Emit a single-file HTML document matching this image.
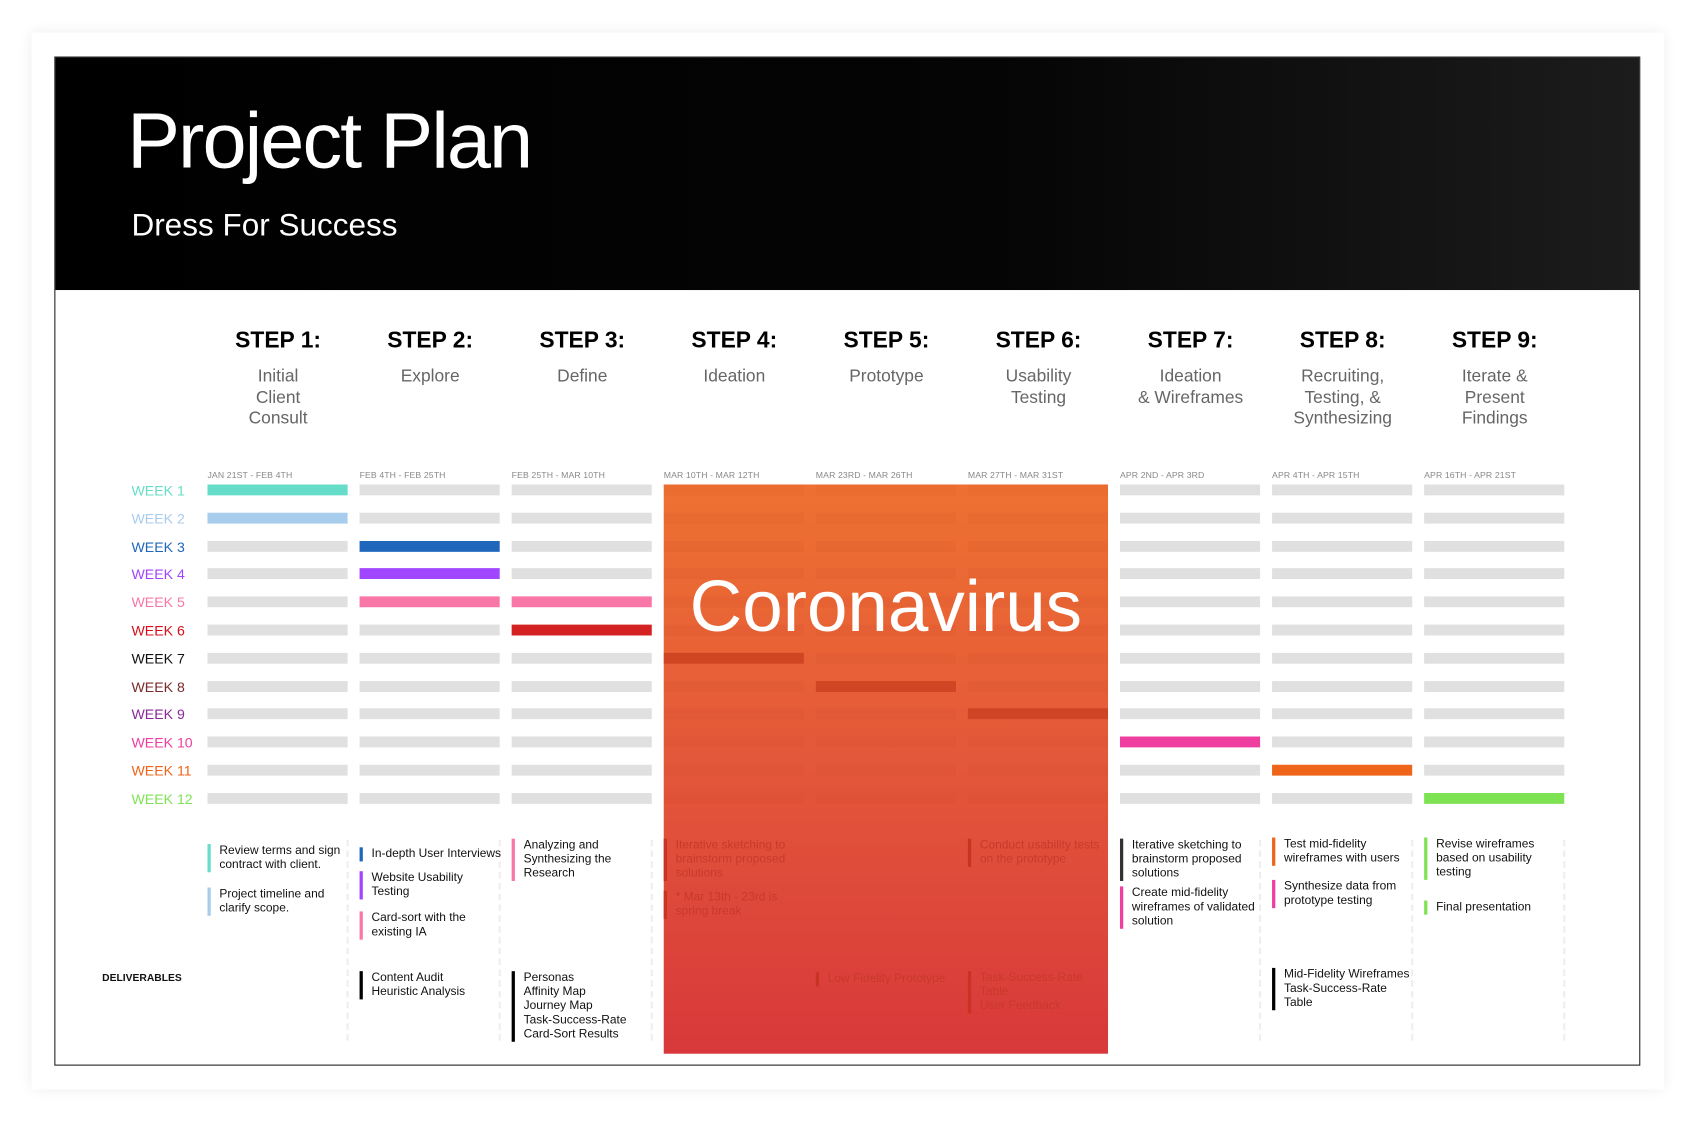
<!DOCTYPE html>
<html><head><meta charset="utf-8"><style>
html,body{margin:0;padding:0;background:#fff;width:1703px;height:1123px;overflow:hidden}
#s{position:absolute;left:0;top:0;width:1568px;height:1034px;transform:scale(1.0863);transform-origin:0 0;font-family:"Liberation Sans",sans-serif}
.a{position:absolute}
.card{left:29px;top:30px;width:1503px;height:973px;background:#fff;box-shadow:0 0 12px rgba(0,0,0,0.08)}
.frame{left:50px;top:52px;width:1458px;height:927px;border:1px solid #222;background:#fff}
.hdr{left:51px;top:53px;width:1458px;height:214px;background:linear-gradient(90deg,#000 0%,#050505 60%,#1c1c1c 100%)}
.st{width:160px;text-align:center;font-weight:bold;font-size:21px;color:#000;top:302px}
.sub{width:160px;text-align:center;font-size:16px;line-height:19.5px;color:#666;top:337px}
.dt{font-size:8px;color:#888;top:433px;letter-spacing:0.1px}
.b{height:10px;width:129px;background:#e0e0e0}
.wk{font-size:13px;left:121px}
.t{font-size:11px;line-height:13px;color:#111;padding-left:8px;border-left:3px solid #000;white-space:nowrap}
.f{color:#c8392c;border-color:#c93324}
.v{width:0;border-left:2px dashed #eee;top:773px;height:185px}
</style></head><body><div id="s">
<div class="a card"></div>
<div class="a frame"></div>
<div class="a hdr"></div>
<div class="a" style="left:117px;top:88px;font-size:73px;color:#fff;letter-spacing:-1.8px">Project Plan</div>
<div class="a" style="left:121px;top:192px;font-size:29px;color:#fff">Dress For Success</div>

<div class="a st" style="left:176px">STEP 1:</div>
<div class="a st" style="left:316px">STEP 2:</div>
<div class="a st" style="left:456px">STEP 3:</div>
<div class="a st" style="left:596px">STEP 4:</div>
<div class="a st" style="left:736px">STEP 5:</div>
<div class="a st" style="left:876px">STEP 6:</div>
<div class="a st" style="left:1016px">STEP 7:</div>
<div class="a st" style="left:1156px">STEP 8:</div>
<div class="a st" style="left:1296px">STEP 9:</div>
<div class="a sub" style="left:176px">Initial<br>Client<br>Consult</div>
<div class="a sub" style="left:316px">Explore</div>
<div class="a sub" style="left:456px">Define</div>
<div class="a sub" style="left:596px">Ideation</div>
<div class="a sub" style="left:736px">Prototype</div>
<div class="a sub" style="left:876px">Usability<br>Testing</div>
<div class="a sub" style="left:1016px">Ideation<br>&amp; Wireframes</div>
<div class="a sub" style="left:1156px">Recruiting,<br>Testing, &amp;<br>Synthesizing</div>
<div class="a sub" style="left:1296px">Iterate &amp;<br>Present<br>Findings</div>

<div class="a dt" style="left:191px">JAN 21ST - FEB 4TH</div>
<div class="a dt" style="left:331px">FEB 4TH - FEB 25TH</div>
<div class="a dt" style="left:471px">FEB 25TH - MAR 10TH</div>
<div class="a dt" style="left:611px">MAR 10TH - MAR 12TH</div>
<div class="a dt" style="left:751px">MAR 23RD - MAR 26TH</div>
<div class="a dt" style="left:891px">MAR 27TH - MAR 31ST</div>
<div class="a dt" style="left:1031px">APR 2ND - APR 3RD</div>
<div class="a dt" style="left:1171px">APR 4TH - APR 15TH</div>
<div class="a dt" style="left:1311px">APR 16TH - APR 21ST</div>

<div id="rows"></div>

<div class="a wk" style="top:444px;color:#66ddc8">WEEK 1</div>
<div class="a wk" style="top:470px;color:#a8ccec">WEEK 2</div>
<div class="a wk" style="top:496px;color:#1f67bb">WEEK 3</div>
<div class="a wk" style="top:521px;color:#a046ff">WEEK 4</div>
<div class="a wk" style="top:547px;color:#f977a6">WEEK 5</div>
<div class="a wk" style="top:573px;color:#d40f1a">WEEK 6</div>
<div class="a wk" style="top:599px;color:#111">WEEK 7</div>
<div class="a wk" style="top:625px;color:#7a2a2a">WEEK 8</div>
<div class="a wk" style="top:650px;color:#8a2a9a">WEEK 9</div>
<div class="a wk" style="top:676px;color:#ee3e9f">WEEK 10</div>
<div class="a wk" style="top:702px;color:#ee6418">WEEK 11</div>
<div class="a wk" style="top:728px;color:#7ee353">WEEK 12</div>

<div class="a v" style="left:319px"></div>
<div class="a v" style="left:459px"></div>
<div class="a v" style="left:599px"></div>
<div class="a v" style="left:1159px"></div>
<div class="a v" style="left:1299px"></div>
<div class="a v" style="left:1439px"></div>

<div class="a" style="left:611px;top:446px;width:409px;height:524px;background:linear-gradient(180deg,#ee7131 0%,#e3573a 50%,#d8383a 100%)"></div>
<div id="orows"></div>
<div class="a" style="left:611px;top:520px;width:409px;text-align:center;font-size:67px;color:#fff">Coronavirus</div>

<div class="a t" style="left:191px;top:777px;border-color:#66ddc8">Review terms and sign<br>contract with client.</div>
<div class="a t" style="left:191px;top:817px;border-color:#a8ccec">Project timeline and<br>clarify scope.</div>
<div class="a t" style="left:331px;top:780px;border-color:#1f67bb">In-depth User Interviews</div>
<div class="a t" style="left:331px;top:802px;border-color:#a046ff">Website Usability<br>Testing</div>
<div class="a t" style="left:331px;top:839px;border-color:#f977a6">Card-sort with the<br>existing IA</div>
<div class="a t" style="left:471px;top:772px;border-color:#f977a6">Analyzing and<br>Synthesizing the<br>Research</div>
<div class="a t f" style="left:611px;top:772px">Iterative sketching to<br>brainstorm proposed<br>solutions</div>
<div class="a t f" style="left:611px;top:820px">* Mar 13th - 23rd is<br>spring break</div>
<div class="a t f" style="left:891px;top:772px">Conduct usability tests<br>on the prototype</div>
<div class="a t" style="left:1031px;top:772px;border-color:#333">Iterative sketching to<br>brainstorm proposed<br>solutions</div>
<div class="a t" style="left:1031px;top:816px;border-color:#ee3e9f">Create mid-fidelity<br>wireframes of validated<br>solution</div>
<div class="a t" style="left:1171px;top:771px;border-color:#ee6418">Test mid-fidelity<br>wireframes with users</div>
<div class="a t" style="left:1171px;top:810px;border-color:#ee3e9f">Synthesize data from<br>prototype testing</div>
<div class="a t" style="left:1311px;top:771px;border-color:#7ee353">Revise wireframes<br>based on usability<br>testing</div>
<div class="a t" style="left:1311px;top:829px;border-color:#7ee353">Final presentation</div>

<div class="a" style="left:94px;top:895px;font-size:9.5px;font-weight:bold;color:#111">DELIVERABLES</div>
<div class="a t" style="left:331px;top:894px">Content Audit<br>Heuristic Analysis</div>
<div class="a t" style="left:471px;top:894px">Personas<br>Affinity Map<br>Journey Map<br>Task-Success-Rate<br>Card-Sort Results</div>
<div class="a t f" style="left:751px;top:895px">Low Fidelity Prototype</div>
<div class="a t f" style="left:891px;top:894px">Task-Success-Rate<br>Table<br>User Feedback</div>
<div class="a t" style="left:1171px;top:891px">Mid-Fidelity Wireframes<br>Task-Success-Rate<br>Table</div>
</div>
<script>
var colors={'0,0':'#66ddc8','1,0':'#a8ccec','2,1':'#1f67bb','3,1':'#a046ff','4,1':'#f977a6','4,2':'#f977a6','5,2':'#d42222','9,6':'#ee3e9f','10,7':'#ee6418','11,8':'#7ee353'};
var h='',o='';
for(var r=0;r<12;r++){var y=Math.round(446+r*25.8);
for(var c=0;c<9;c++){var x=191+140*c;
if(c>=3&&c<=5){var dark=(r==6&&c==3)||(r==7&&c==4)||(r==8&&c==5);
o+='<div class="a" style="left:'+x+'px;top:'+y+'px;width:129px;height:10px;background:'+(dark?'rgba(190,50,20,0.55)':'rgba(180,60,30,0.07)')+'"></div>';continue;}
var k=r+','+c;h+='<div class="a b" style="left:'+x+'px;top:'+y+'px'+(colors[k]?';background:'+colors[k]:'')+'"></div>';}}
document.getElementById('rows').outerHTML=h;document.getElementById('orows').outerHTML=o;
</script>
</body></html>
